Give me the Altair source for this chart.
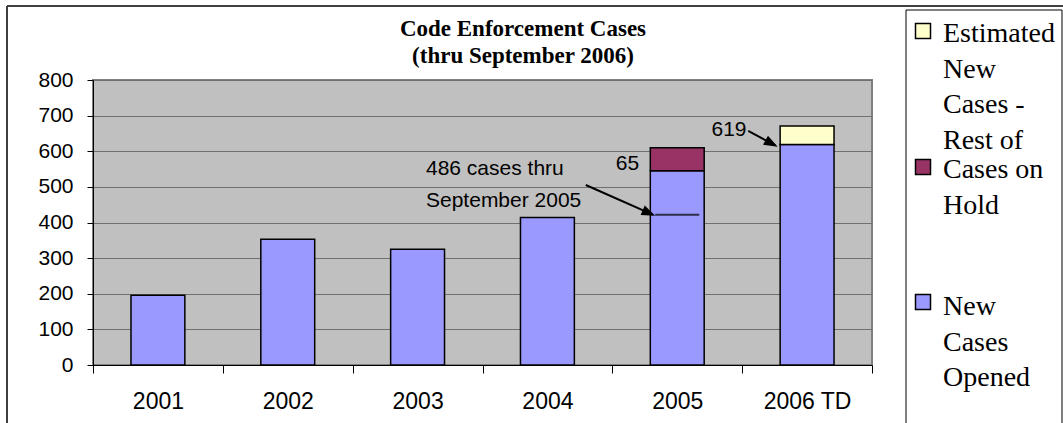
import math
import altair as alt
import pandas as pd

# ---------------- data ----------------
years = ["2001", "2002", "2003", "2004", "2005", "2006 TD"]
new_cases = [196, 353, 325, 414, 545, 619]
on_hold = [0, 0, 0, 0, 65, 0]
estimated_rest = [0, 0, 0, 0, 0, 52]
series_names = ["New Cases Opened", "Cases on Hold", "Estimated New Cases - Rest of 2006"]
series_colors = ["#9999FF", "#993366", "#FFFFCC"]
y_ticks = list(range(0, 801, 100))

sept2005_level = 422          # level of the "486 cases thru September 2005" marker
label_619_level = 619

title_lines = ["Code Enforcement Cases", "(thru September 2006)"]
legend_entries = [["Estimated", "New", "Cases -", "Rest of"], ["Cases on", "Hold"], ["New", "Cases", "Opened"]]
legend_colors = ["#FFFFCC", "#993366", "#9999FF"]
note_486 = ["486 cases thru", "September 2005"]
note_65 = "65"
note_619 = "619"

# ---------------- tables ----------------
rows = []
for i, y in enumerate(years):
    for k, vals in enumerate([new_cases, on_hold, estimated_rest]):
        if vals[i] > 0:
            rows.append({"year": y, "series": series_names[k], "value": vals[i], "order": k})
bars_df = pd.DataFrame(rows)

x_scale = alt.Scale(domain=years, paddingInner=0, paddingOuter=0)
y_scale = alt.Scale(domain=[0, 800], nice=False, zero=True)

x_axis = alt.Axis(labelAngle=0, tickBand="extent", tickSize=8, tickColor="black",
                  domainColor="black", labelFont="Liberation Sans", labelFontSize=23,
                  labelColor="black", labelPadding=17, grid=False)
y_axis = alt.Axis(values=y_ticks, tickSize=6, tickColor="black", domainColor="black",
                  labelFont="Liberation Sans", labelFontSize=21, labelColor="black",
                  labelPadding=14, labelOverlap=False, grid=True, gridColor="#707070",
                  gridWidth=1)

def xenc():
    return alt.X("year:N", scale=x_scale, sort=years, title=None, axis=x_axis)

def yenc(field="v"):
    return alt.Y(f"{field}:Q", scale=y_scale, title=None, axis=y_axis)

bars = alt.Chart(bars_df).mark_bar(
    width=alt.RelativeBandSize(0.415), stroke="black", strokeWidth=1.5
).encode(
    x=xenc(),
    y=alt.Y("value:Q", stack="zero", scale=y_scale, title=None, axis=y_axis),
    color=alt.Color("series:N", scale=alt.Scale(domain=series_names, range=series_colors), legend=None),
    order=alt.Order("order:Q"),
)

# marker line for September 2005
mark_df = pd.DataFrame({"year": ["2005"], "v": [sept2005_level]})
marker = alt.Chart(mark_df).mark_tick(size=44, thickness=2, color="black", orient="horizontal").encode(
    x=xenc(), y=yenc())

def arrow(df, sx, sy, tx, ty):
    line = alt.Chart(df).mark_rule(color="black", strokeWidth=2, xOffset=sx, yOffset=sy,
                                   x2Offset=tx, y2Offset=ty).encode(
        x=xenc(), x2="year:N", y=yenc(), y2="v:Q")
    ang = math.degrees(math.atan2(ty - sy, tx - sx))
    head = alt.Chart(df).mark_point(shape="M0,0L-2,-0.75L-2,0.75Z", size=100, filled=True,
                                    fill="black", stroke="black", opacity=1, angle=ang % 360,
                                    xOffset=tx, yOffset=ty).encode(x=xenc(), y=yenc())
    return [line, head]

arrow1 = arrow(mark_df, -91.5, -29.7, -24.5, 0)
a619_df = pd.DataFrame({"year": ["2006 TD"], "v": [label_619_level]})
arrow2 = arrow(a619_df, -58.9, -13.5, -31.9, 1)

def text_layer(t, x, y, **kw):
    return alt.Chart(pd.DataFrame({"t": [t]})).mark_text(lineBreak="\n", color="black", **kw).encode(
        x=alt.value(x), y=alt.value(y), text="t:N")

layers = [bars, marker] + arrow1 + arrow2
layers.append(text_layer("\n".join(note_486), 333, 95, align="left", baseline="alphabetic",
                         font="Liberation Sans", fontSize=21, lineHeight=31.7))
layers.append(text_layer(note_65, 534.5, 90, align="center", baseline="alphabetic",
                         font="Liberation Sans", fontSize=21))
layers.append(text_layer(note_619, 636, 56, align="center", baseline="alphabetic",
                         font="Liberation Sans", fontSize=21))
# title
layers.append(text_layer("\n".join(title_lines), 430, -44, align="center", baseline="alphabetic",
                         font="Liberation Serif", fontSize=23, fontWeight="bold", lineHeight=26.5))

one = pd.DataFrame({"a": [0]})
# outer frame
layers.append(alt.Chart(one).mark_rule(color="#404040", strokeWidth=2).encode(
    x=alt.value(-86), x2=alt.value(975), y=alt.value(-74)))
layers.append(alt.Chart(one).mark_rule(color="#404040", strokeWidth=2).encode(
    x=alt.value(-86), y=alt.value(-74), y2=alt.value(360)))
# legend box
layers.append(alt.Chart(one).mark_rect(filled=False, stroke="black", strokeWidth=1).encode(
    x=alt.value(813), x2=alt.value(969), y=alt.value(-70), y2=alt.value(360)))

sq_y = [-49, 87, 222]
txt_y = [-38, 98, 235]
for i in range(3):
    layers.append(alt.Chart(one).mark_square(size=225, fill=legend_colors[i], stroke="black",
                                             strokeWidth=1.5, opacity=1).encode(
        x=alt.value(830), y=alt.value(sq_y[i])))
    layers.append(text_layer("\n".join(legend_entries[i]), 850, txt_y[i], align="left",
                             baseline="alphabetic", font="Liberation Serif", fontSize=28,
                             lineHeight=35.5))

chart = alt.layer(*layers).properties(
    width=779, height=285,
    padding={"left": 93, "top": 80, "right": 191, "bottom": 58},
    autosize=alt.AutoSizeParams(type="none"),
).configure(background="white").configure_view(fill="#C0C0C0", stroke="#808080", strokeWidth=2)

chart.save("out.html", embed_options={"renderer": "svg", "actions": False})
